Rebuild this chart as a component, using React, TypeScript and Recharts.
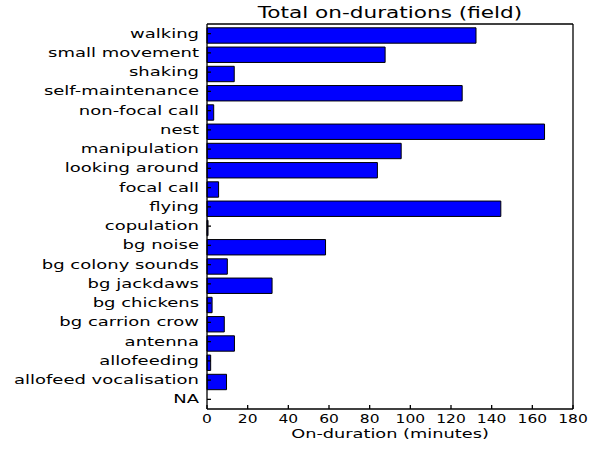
import { BarChart, Bar, XAxis, YAxis } from 'recharts'

const categories = [
  'walking',
  'small movement',
  'shaking',
  'self-maintenance',
  'non-focal call',
  'nest',
  'manipulation',
  'looking around',
  'focal call',
  'flying',
  'copulation',
  'bg noise',
  'bg colony sounds',
  'bg jackdaws',
  'bg chickens',
  'bg carrion crow',
  'antenna',
  'allofeeding',
  'allofeed vocalisation',
  'NA',
]

const minutes = [
  132.3, 87.6, 13.4, 125.5, 3.3, 166, 95.5, 83.8, 5.7, 144.5, 0.5, 58.3, 10, 32, 2.5, 8.5, 13.5, 1.8,
  9.6, 0,
]

const xTicks = [0, 20, 40, 60, 80, 100, 120, 140, 160, 180]

const data = categories.map((name, i) => ({ name, value: minutes[i], pad: 0 }))

const font = 'DejaVu Sans, sans-serif'

// the reference text is stretched sideways, so widen ours with scaleX
function YTick(props: any) {
  const { x, y, payload } = props
  return (
    <g transform={`translate(${x},${y}) scale(1.44,1)`}>
      <text textAnchor="end" dy="0.32em" fontSize={12.5} fontFamily={font} fill="#000">
        {payload.value}
      </text>
    </g>
  )
}

function XTick(props: any) {
  const { x, y, payload } = props
  return (
    <g transform={`translate(${x},${y}) scale(1.24,1)`}>
      <text textAnchor="middle" dy="0.71em" fontSize={12.5} fontFamily={font} fill="#000">
        {payload.value}
      </text>
    </g>
  )
}

const textBox = {
  position: 'absolute' as const,
  left: 207,
  width: 366,
  textAlign: 'center' as const,
  fontFamily: font,
  color: '#000',
  transform: 'scaleX(1.44)',
  whiteSpace: 'nowrap' as const,
}

export default function App() {
  return (
    <div style={{ position: 'absolute', left: 0, top: 0, width: 599, height: 449, background: '#fff' }}>
      <div style={{ ...textBox, top: 4, fontSize: 15 }}>Total on-durations (field)</div>
      <div style={{ ...textBox, top: 426, fontSize: 12.5, transform: 'scaleX(1.42)' }}>
        On-duration (minutes)
      </div>
      <BarChart
        width={599}
        height={449}
        data={data}
        layout="vertical"
        barGap={0}
        margin={{ top: 23, right: 25, bottom: 0, left: 0 }}
      >
        <XAxis
          xAxisId="bottom"
          type="number"
          domain={[0, 180]}
          ticks={xTicks}
          interval={0}
          orientation="bottom"
          height={40}
          tick={<XTick />}
          tickSize={-4}
          tickMargin={9}
          stroke="#000"
          strokeWidth={1.3}
        />
        <XAxis
          xAxisId="top"
          type="number"
          domain={[0, 180]}
          ticks={xTicks}
          interval={0}
          orientation="top"
          height={1}
          tick={false}
          tickSize={-4}
          stroke="#000"
          strokeWidth={1.3}
        />
        <YAxis
          yAxisId="left"
          type="category"
          dataKey="name"
          width={207}
          interval={0}
          tick={<YTick />}
          tickSize={-4}
          tickMargin={12}
          stroke="#000"
          strokeWidth={1.3}
        />
        <YAxis
          yAxisId="right"
          type="category"
          dataKey="name"
          orientation="right"
          width={1}
          interval={0}
          tick={false}
          tickSize={-4}
          stroke="#000"
          strokeWidth={1.3}
        />
        {/* empty spacer so the real bar sits in the lower 80% of each row, like barh align='edge' */}
        <Bar
          xAxisId="bottom"
          yAxisId="left"
          dataKey="pad"
          barSize={3.8}
          fill="none"
          stroke="none"
          isAnimationActive={false}
        />
        <Bar
          xAxisId="bottom"
          yAxisId="left"
          dataKey="value"
          barSize={15.4}
          fill="#0000ff"
          stroke="#000"
          strokeWidth={1}
          isAnimationActive={false}
        />
      </BarChart>
    </div>
  )
}
